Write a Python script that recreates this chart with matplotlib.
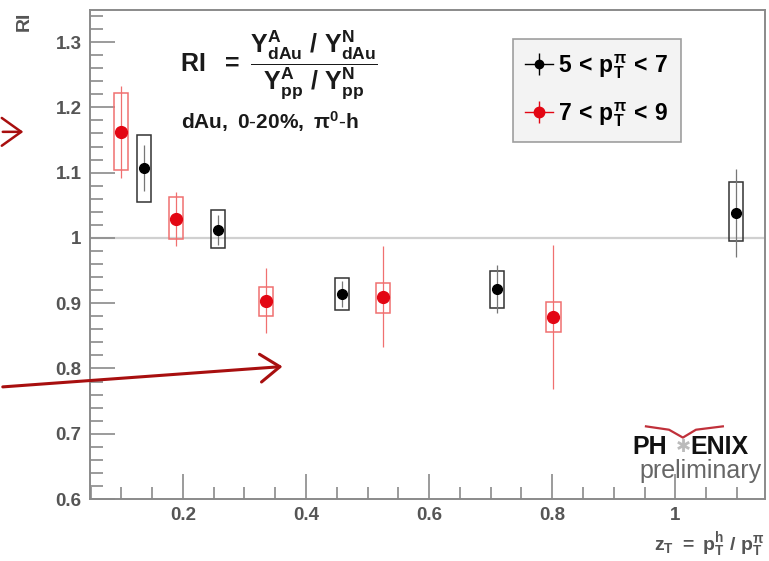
import numpy as np
import matplotlib.pyplot as plt
from matplotlib.patches import Rectangle, FancyArrowPatch
from matplotlib.ticker import MultipleLocator, FixedLocator
from matplotlib.lines import Line2D

plt.rcParams['font.family'] = ['Liberation Sans', 'DejaVu Sans']
plt.rcParams['mathtext.fontset'] = 'custom'
plt.rcParams['mathtext.rm'] = 'Liberation Sans:bold'
plt.rcParams['mathtext.it'] = 'Liberation Sans:bold'
plt.rcParams['mathtext.bf'] = 'Liberation Sans:bold'
plt.rcParams['mathtext.sf'] = 'Liberation Sans:bold'
plt.rcParams['mathtext.default'] = 'bf'

# 5 < pT(pi) < 7  (black)
black_zt = [0.137, 0.257, 0.459, 0.711, 1.098]
black_ri = [1.107, 1.012, 0.914, 0.922, 1.038]
black_stat = [0.035, 0.023, 0.020, 0.037, 0.068]
black_sys_lo = [1.055, 0.984, 0.890, 0.893, 0.995]
black_sys_hi = [1.158, 1.043, 0.939, 0.950, 1.086]

# 7 < pT(pi) < 9  (red)
red_zt = [0.099, 0.189, 0.335, 0.525, 0.802]
red_ri = [1.162, 1.029, 0.904, 0.910, 0.879]
red_stat = [0.070, 0.041, 0.050, 0.077, 0.110]
red_sys_lo = [1.104, 0.998, 0.881, 0.885, 0.856]
red_sys_hi = [1.222, 1.063, 0.925, 0.931, 0.902]

x_ticks = [0.2, 0.4, 0.6, 0.8, 1.0]
x_tick_labels = ['0.2', '0.4', '0.6', '0.8', '1']
y_ticks = [0.6, 0.7, 0.8, 0.9, 1.0, 1.1, 1.2, 1.3]
y_tick_labels = ['0.6', '0.7', '0.8', '0.9', '1', '1.1', '1.2', '1.3']

fig = plt.figure(figsize=(7.69, 5.61), dpi=100)
ax = fig.add_axes([0.117, 0.1105, 0.878, 0.8715])
ax.set_xlim(0.049, 1.146)
ax.set_ylim(0.6, 1.349)

axis_col = '#8a8a8a'
for s in ax.spines.values():
    s.set_color(axis_col)
    s.set_linewidth(1.4)

ax.axhline(1.0, color='#d0d0d0', lw=1.6, zorder=0)

box_w = 0.023
red_col = '#e30613'
red_light = '#f07070'

for x, lo, hi in zip(black_zt, black_sys_lo, black_sys_hi):
    ax.add_patch(Rectangle((x - box_w / 2, lo), box_w, hi - lo, fill=False,
                           edgecolor='#333333', lw=1.1, zorder=2))
for x, lo, hi in zip(red_zt, red_sys_lo, red_sys_hi):
    ax.add_patch(Rectangle((x - box_w / 2, lo), box_w, hi - lo, fill=False,
                           edgecolor=red_light, lw=1.1, zorder=2))

ax.errorbar(black_zt, black_ri, yerr=black_stat, fmt='o', color='black',
            ms=7, ecolor='#777777', elinewidth=0.9, capsize=0, zorder=3)
ax.errorbar(red_zt, red_ri, yerr=red_stat, fmt='o', color=red_col,
            ms=8.5, ecolor=red_light, elinewidth=0.9, capsize=0, zorder=3)

ax.xaxis.set_major_locator(FixedLocator(x_ticks))
ax.set_xticklabels(x_tick_labels)
ax.xaxis.set_minor_locator(MultipleLocator(0.05))
ax.yaxis.set_major_locator(FixedLocator(y_ticks))
ax.set_yticklabels(y_tick_labels)
ax.yaxis.set_minor_locator(MultipleLocator(0.02))
ax.tick_params(which='both', direction='in', color=axis_col, width=1.2,
               top=False, right=False)
ax.tick_params(which='major', length=18, labelsize=13.5, labelcolor='#555555', pad=6)
ax.tick_params(which='minor', length=9)
for lab in ax.get_xticklabels() + ax.get_yticklabels():
    lab.set_fontweight('bold')

# axis titles
fig.text(0.032, 0.962, 'RI', rotation=90, ha='center', va='center',
         fontsize=14, fontweight='bold', color='#555555')
fig.text(0.995, 0.030, r'$z_T\ =\ p_T^h\ /\ p_T^{\pi}$', ha='right',
         va='center', fontsize=14, color='#555555')

# formula and selection
ax.text(0.133, 0.887,
        r'$RI\ \ =\ \dfrac{Y^A_{dAu}\ /\ Y^N_{dAu}}{Y^A_{pp}\ /\ Y^N_{pp}}$',
        transform=ax.transAxes, ha='left', va='center', fontsize=18, color='#1a1a1a')
ax.text(0.135, 0.772, r'$dAu,\ 0$-$20\%,\ \pi^0$-$h$',
        transform=ax.transAxes, ha='left', va='center', fontsize=15, color='#1a1a1a')

handles = [
    (Line2D([], [], color='black', lw=1, marker='|', ms=16, mew=1),
     Line2D([], [], color='black', marker='o', ms=6, ls='none')),
    (Line2D([], [], color=red_col, lw=1, marker='|', ms=16, mew=1),
     Line2D([], [], color=red_col, marker='o', ms=7.5, ls='none')),
]
labels = [r'$5\,<\,p_T^{\pi}\,<\,7$', r'$7\,<\,p_T^{\pi}\,<\,9$']
leg = ax.legend(handles, labels, loc='upper left', bbox_to_anchor=(0.626, 0.94),
                fontsize=16.5, frameon=True, fancybox=False, handlelength=1.2,
                handletextpad=0.25, borderpad=0.55, labelspacing=0.85,
                borderaxespad=0)
leg.get_frame().set_facecolor('#f0f0f0')
leg.get_frame().set_edgecolor('#888888')
leg.get_frame().set_linewidth(1.2)

# PHENIX preliminary
fig.text(0.822, 0.203, 'PH', ha='left', va='center', fontsize=18,
         fontweight='bold', color='#111111')
fig.text(0.889, 0.203, '\u2731', ha='center', va='center', fontsize=13,
         color='#bbbbbb', family=['DejaVu Sans'])
fig.text(0.898, 0.203, 'ENIX', ha='left', va='center', fontsize=18,
         fontweight='bold', color='#111111')
fig.text(0.990, 0.160, 'preliminary', ha='right', va='center', fontsize=18,
         color='#666666')
fig.add_artist(Line2D([0.84, 0.87, 0.888, 0.905, 0.94],
                      [0.240, 0.234, 0.220, 0.234, 0.240],
                      color='#c0303a', lw=1.6, transform=fig.transFigure))

# red annotation arrows outside the frame
arrow_col = '#a80f0f'
fig.patches.append(FancyArrowPatch(
    (0.0, 0.765), (0.034, 0.765), arrowstyle='->,head_length=7,head_width=5',
    color=arrow_col, lw=1.8, transform=fig.transFigure, mutation_scale=2))
fig.patches.append(FancyArrowPatch(
    (0.0, 0.310), (0.371, 0.347), arrowstyle='->,head_length=7,head_width=5',
    color=arrow_col, lw=2.2, transform=fig.transFigure, mutation_scale=2))

fig.savefig('out.png', dpi=100)
